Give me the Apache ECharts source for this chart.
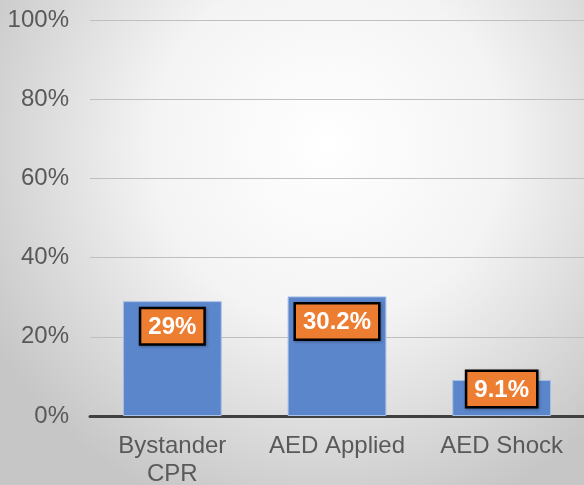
<!DOCTYPE html>
<html>
<head>
<meta charset="utf-8">
<script src="https://cdn.jsdelivr.net/npm/echarts@6/dist/echarts.min.js"></script>
<style>
    html, body {margin: 0; padding: 0;}
    #chart {width: 584px; height: 485px;}
</style>
</head>
<body>
<div id="chart"></div>
<script>
    const categories = ['Bystander\nCPR', 'AED Applied', 'AED Shock'];
    const percentValues = [29, 30.2, 9.1];
    const labelTexts = ['29%', '30.2%', '9.1%'];

    const chart = echarts.init(document.getElementById('chart'));

    const data = percentValues.map((v, i) => ({
        value: v,
        label: i === 2 ? {offset: [0, -16]} : {}
    }));

    const option = {
        backgroundColor: {
            type: 'radial', x: 0.56, y: 0.3, r: 0.8,
            colorStops: [
                {offset: 0, color: '#ffffff'},
                {offset: 0.45, color: '#f4f4f4'},
                {offset: 1, color: '#c6c6c6'}
            ]
        },
        animation: false,
        grid: {left: 90, right: 0, top: 20, bottom: 69, outerBoundsMode: 'none', containLabel: false},
        xAxis: {
            type: 'category',
            data: categories,
            axisTick: {show: false},
            axisLine: {lineStyle: {color: '#404040', width: 3}},
            axisLabel: {
                color: '#595959', fontSize: 24, fontFamily: 'Liberation Sans',
                margin: 16, lineHeight: 28, interval: 0
            }
        },
        yAxis: {
            type: 'value',
            min: 0, max: 100, interval: 20,
            axisLine: {show: false},
            axisTick: {show: false},
            splitLine: {lineStyle: {color: '#bfbfbf', width: 1}},
            axisLabel: {
                color: '#595959', fontSize: 24, fontFamily: 'Liberation Sans',
                margin: 21, formatter: '{value}%'
            }
        },
        series: [{
            type: 'bar',
            data: data,
            barWidth: '60%',
            itemStyle: {color: '#5b86cb', borderColor: '#a9c0e6', borderWidth: 1},
            label: {
                show: true,
                position: 'insideTop',
                distance: 8,
                formatter: p => labelTexts[p.dataIndex],
                color: '#ffffff',
                fontSize: 24,
                fontWeight: 'bold',
                fontFamily: 'Liberation Sans',
                lineHeight: 26,
                backgroundColor: '#ed7d31',
                borderColor: '#000000',
                borderWidth: 2.5,
                padding: [5, 7, 3, 7],
                shadowColor: 'rgba(0,0,0,0.3)',
                shadowBlur: 3,
                shadowOffsetX: 1,
                shadowOffsetY: 1
            }
        }]
    };

    chart.setOption(option);
</script>
</body>
</html>
